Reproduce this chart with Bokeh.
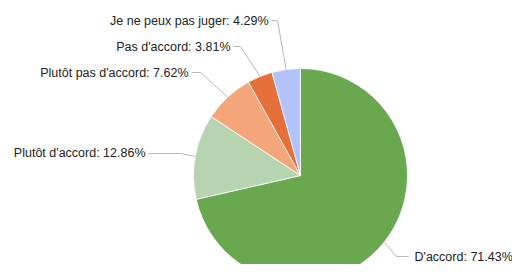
import math
from bokeh.plotting import figure
from bokeh.models import Range1d, ColumnDataSource
from bokeh.core.properties import value
from bokeh.embed import file_html
from bokeh.resources import INLINE

# ---- data ----
categories = ["D'accord", "Plutôt d'accord", "Plutôt pas d'accord", "Pas d'accord", "Je ne peux pas juger"]
percents = [71.43, 12.86, 7.62, 3.81, 4.29]
colors = ["#6aa84f", "#b7d4b0", "#f4a67a", "#e6703a", "#b4c2fa"]

# ---- layout (screen-like coordinates: y measured up from bottom of a 280px picture) ----
H = 280
cx, cy, R = 300, H - 175, 107
# label text anchor points and elbow points (layout only)
label_x = [414, 145, 188, 230, 268]
label_y = [256, 152, 72, 46, 20]
elbow_x = [396, 180, 200, 240, 277]
elbow_y = [256, 153, 72, 46, 20]
label_side = ["left", "right", "right", "right", "right"]  # text_align

total = sum(percents)
starts, ends, mids = [], [], []
acc = 0.0
for v in percents:
    a0 = math.pi / 2 - acc / total * 2 * math.pi
    acc += v
    a1 = math.pi / 2 - acc / total * 2 * math.pi
    starts.append(a0)
    ends.append(a1)
    mids.append((a0 + a1) / 2)

p = figure(width=512, height=264, output_backend="svg", toolbar_location=None,
           x_range=Range1d(0, 512), y_range=Range1d(H - 264, H),
           min_border=0, outline_line_color=None)
p.axis.visible = False
p.grid.visible = False
p.background_fill_color = "white"
p.border_fill_color = "white"

src = ColumnDataSource(dict(start=starts, end=ends, color=colors))
p.wedge(x=cx, y=cy, radius=R, start_angle="start", end_angle="end",
        direction="clock", fill_color="color", line_color="white", line_width=0.8,
        source=src)

# leader lines & labels
for i, cat in enumerate(categories):
    ax = cx + R * math.cos(mids[i])
    ay = cy + R * math.sin(mids[i])
    ex, ey = elbow_x[i], H - elbow_y[i]
    lx = label_x[i]
    tx_end = lx - 6 if label_side[i] == "left" else lx + 3
    p.line([ax, ex, tx_end], [ay, ey, ey], line_color="#b8b8b8", line_width=1)
    txt = f"{cat}: {percents[i]:.2f}%"
    p.text(x=[lx], y=[H - label_y[i]], text=[txt], text_align=label_side[i],
           text_baseline="middle", text_font=value("Liberation Sans"),
           text_font_size="12.5px", text_color="#222222")

open("out.html", "w").write(file_html(p, INLINE))
